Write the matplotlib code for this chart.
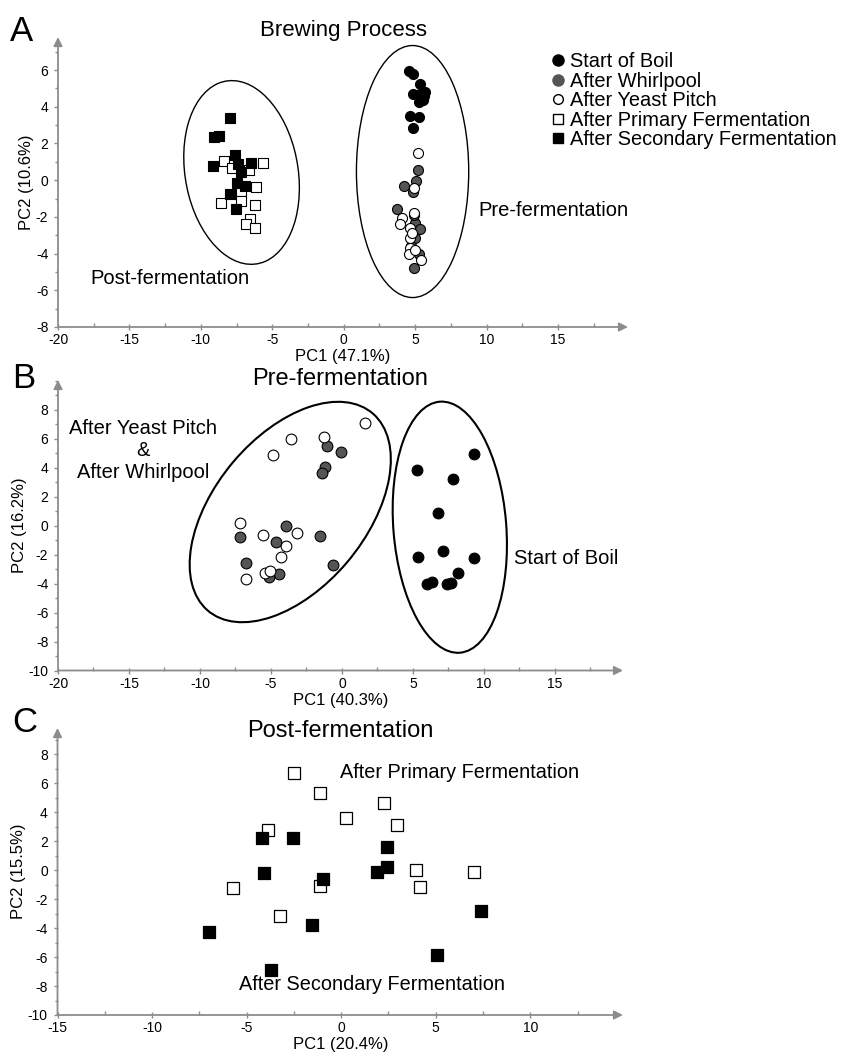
import matplotlib
matplotlib.use("Agg")
import matplotlib.pyplot as plt
from matplotlib.patches import Ellipse
from matplotlib.lines import Line2D
from matplotlib.ticker import MultipleLocator

plt.rcParams['font.family'] = ['Liberation Sans', 'DejaVu Sans']
plt.rcParams['axes.unicode_minus'] = False

# ---- Panel A : whole brewing process (PC1 47.1 %, PC2 10.6 %) ----
a_boil_x = [4.55, 4.83, 5.36, 5.71, 4.83, 5.36, 5.52, 5.24, 4.66, 5.24, 4.83, 5.60]
a_boil_y = [5.96, 5.78, 5.24, 4.82, 4.69, 4.69, 4.38, 4.24, 3.47, 3.42, 2.84, 4.60]
a_whirl_x = [5.18, 4.20, 5.09, 4.85, 3.73, 5.01, 5.36, 5.01, 5.29, 4.94, 4.70, 4.90]
a_whirl_y = [0.55, -0.31, -0.04, -0.62, -1.58, -2.31, -2.68, -3.13, -4.04, -4.77, -3.60, -1.90]
a_yeast_x = [5.18, 4.94, 4.90, 4.08, 3.92, 4.66, 4.66, 4.62, 4.55, 5.41, 5.01, 4.80]
a_yeast_y = [1.48, -0.45, -1.80, -2.07, -2.40, -2.58, -3.13, -3.67, -4.04, -4.37, -3.80, -2.90]
a_prim_x = [-8.39, -7.80, -6.64, -5.64, -6.17, -7.17, -8.62, -7.22, -6.24, -6.57, -6.87, -6.24]
a_prim_y = [1.02, 0.69, 0.56, 0.91, -0.35, -0.58, -1.27, -1.16, -1.36, -2.13, -2.40, -2.62]
a_sec_x = [-7.97, -9.09, -8.74, -9.18, -7.62, -7.41, -6.48, -7.22, -7.50, -6.92, -7.97, -7.57]
a_sec_y = [3.37, 2.36, 2.38, 0.78, 1.36, 0.87, 0.96, 0.42, -0.18, -0.31, -0.76, -1.55]

# ---- Panel B : pre-fermentation (PC1 40.3 %, PC2 16.2 %) ----
b_boil_x = [9.30, 5.28, 7.82, 6.74, 5.33, 7.09, 9.27, 8.17, 5.99, 6.34, 7.39, 7.68]
b_boil_y = [4.95, 3.85, 3.20, 0.90, -2.14, -1.73, -2.21, -3.25, -3.99, -3.92, -4.03, -3.94]
b_whirl_x = [-1.06, -0.07, -1.22, -1.41, -3.92, -7.16, -4.65, -1.57, -6.76, -0.63, -4.46, -5.16]
b_whirl_y = [5.53, 5.07, 4.08, 3.62, -0.02, -0.76, -1.15, -0.69, -2.56, -2.72, -3.36, -3.53]
b_yeast_x = [1.60, -1.29, -3.59, -4.86, -7.21, -5.59, -3.17, -3.92, -4.27, -6.74, -5.40, -5.05]
b_yeast_y = [7.07, 6.15, 5.99, 4.88, 0.16, -0.65, -0.48, -1.38, -2.14, -3.69, -3.25, -3.11]

# ---- Panel C : post-fermentation (PC1 20.4 %, PC2 15.5 %) ----
c_prim_x = [-2.50, -1.12, 2.24, 0.24, 2.95, -3.86, -5.71, -1.12, 3.94, 4.17, 7.01, -3.21]
c_prim_y = [6.67, 5.32, 4.63, 3.58, 3.08, 2.74, -1.26, -1.07, 0.00, -1.14, -0.11, -3.15]
c_sec_x = [-4.19, -2.56, 2.42, -4.07, -0.98, 1.91, 2.42, 7.40, -1.52, -7.01, 5.06, -3.72]
c_sec_y = [2.21, 2.24, 1.60, -0.18, -0.64, -0.11, 0.21, -2.85, -3.77, -4.29, -5.89, -6.92]

# grouping ellipses: centre x, centre y, width, height, angle
a_post_ell = (-7.15, 0.42, 7.8, 10.24, 19)
a_pre_ell = (4.82, 0.47, 7.86, 13.73, 0)
b_mix_ell = (-3.64, 0.95, 17.9, 10.6, 49.3)
b_boil_ell = (7.6, -0.1, 7.95, 17.4, 4.7)

legend_labels = ["Start of Boil", "After Whirlpool", "After Yeast Pitch",
                 "After Primary Fermentation", "After Secondary Fermentation"]

GRAY = "#555555"
AXC = "#8c8c8c"
W, H = 847, 1057

fig = plt.figure(figsize=(W / 100, H / 100), dpi=100)


def px_rect(left, top, right, bottom):
    return [left / W, 1 - bottom / H, (right - left) / W, (bottom - top) / H]


def style_axes(ax, xlim, ylim, xlabel, ylabel):
    ax.set_xlim(*xlim)
    ax.set_ylim(*ylim)
    for s in ax.spines.values():
        s.set_visible(False)
    ax.annotate("", xy=(1, 0), xytext=(0, 0), xycoords="axes fraction",
                arrowprops=dict(arrowstyle="-|>", color=AXC, lw=1.3,
                                mutation_scale=13, shrinkA=0, shrinkB=0))
    ax.annotate("", xy=(0, 1), xytext=(0, 0), xycoords="axes fraction",
                arrowprops=dict(arrowstyle="-|>", color=AXC, lw=1.3,
                                mutation_scale=13, shrinkA=0, shrinkB=0))
    ax.xaxis.set_major_locator(MultipleLocator(5))
    ax.xaxis.set_minor_locator(MultipleLocator(2.5))
    ax.yaxis.set_major_locator(MultipleLocator(2))
    ax.yaxis.set_minor_locator(MultipleLocator(1))
    ax.tick_params(axis="x", which="major", direction="inout", length=5,
                   width=1, color=AXC, labelsize=10, pad=2)
    ax.tick_params(axis="x", which="minor", direction="in", length=3,
                   width=1, color=AXC)
    ax.tick_params(axis="y", which="major", direction="out", length=3,
                   width=1, color=AXC, labelsize=10, pad=4)
    ax.tick_params(axis="y", which="minor", direction="out", length=2,
                   width=1, color=AXC)
    ax.set_xlabel(xlabel, fontsize=12, labelpad=1.5)
    ax.set_ylabel(ylabel, fontsize=12, labelpad=1)
    ax.set_facecolor("none")


def add_ellipse(ax, e, lw):
    ax.add_patch(Ellipse((e[0], e[1]), e[2], e[3], angle=e[4],
                         fill=False, ec="black", lw=lw))


# Panel A
ax1 = fig.add_axes(px_rect(58, 37, 628, 327))
style_axes(ax1, (-20, 19.9), (-8, 7.8), "PC1 (47.1%)", "PC2 (10.6%)")
ax1.set_xticks(range(-20, 20, 5))
ax1.set_yticks(range(-8, 7, 2))
add_ellipse(ax1, a_post_ell, 1.0)
add_ellipse(ax1, a_pre_ell, 1.0)
ms_c, ms_s = 52, 46
ax1.scatter(a_boil_x, a_boil_y, s=ms_c, marker="o", fc="black", ec="black", lw=0.8, zorder=3)
ax1.scatter(a_whirl_x, a_whirl_y, s=ms_c, marker="o", fc=GRAY, ec="black", lw=0.8, zorder=3)
ax1.scatter(a_yeast_x, a_yeast_y, s=ms_c, marker="o", fc="white", ec="black", lw=0.8, zorder=3)
ax1.scatter(a_prim_x, a_prim_y, s=ms_s, marker="s", fc="white", ec="black", lw=0.8, zorder=3)
ax1.scatter(a_sec_x, a_sec_y, s=ms_s, marker="s", fc="black", ec="black", lw=0.8, zorder=3)
ax1.text(-17.7, -5.35, "Post-fermentation", fontsize=14.5, va="center", ha="left")
ax1.text(9.43, -1.68, "Pre-fermentation", fontsize=14.5, va="center", ha="left")
ax1.text(0.5, 1.005, "Brewing Process", transform=ax1.transAxes, fontsize=16,
         ha="center", va="baseline")

handles = [
    Line2D([], [], ls="none", marker="o", mfc="black", mec="black", ms=8),
    Line2D([], [], ls="none", marker="o", mfc=GRAY, mec=GRAY, ms=8),
    Line2D([], [], ls="none", marker="o", mfc="white", mec="black", mew=1, ms=7),
    Line2D([], [], ls="none", marker="s", mfc="white", mec="black", mew=1, ms=7),
    Line2D([], [], ls="none", marker="s", mfc="black", mec="black", ms=7.5),
]
fig.legend(handles, legend_labels, loc="upper left",
           bbox_to_anchor=(549.5 / W, 1 - 52 / H), frameon=False,
           fontsize=14.4, handlelength=0.8, handletextpad=0.25,
           labelspacing=0.03, borderpad=0, borderaxespad=0)

# Panel B
ax2 = fig.add_axes(px_rect(58, 380, 623, 670.5))
style_axes(ax2, (-20, 19.8), (-10, 10.07), "PC1 (40.3%)", "PC2 (16.2%)")
ax2.set_xticks(range(-20, 20, 5))
ax2.set_yticks(range(-10, 9, 2))
add_ellipse(ax2, b_mix_ell, 1.5)
add_ellipse(ax2, b_boil_ell, 1.5)
ms_b = 60
ax2.scatter(b_boil_x, b_boil_y, s=ms_b, marker="o", fc="black", ec="black", lw=0.8, zorder=3)
ax2.scatter(b_whirl_x, b_whirl_y, s=ms_b, marker="o", fc=GRAY, ec="black", lw=0.8, zorder=3)
ax2.scatter(b_yeast_x, b_yeast_y, s=ms_b, marker="o", fc="white", ec="black", lw=0.8, zorder=3)
ax2.text(-14.0, 5.2, "After Yeast Pitch\n&\nAfter Whirlpool", fontsize=14.5,
         ha="center", va="center", linespacing=1.2)
ax2.text(12.1, -2.24, "Start of Boil", fontsize=14.5, ha="left", va="center")
ax2.text(0.5, 1 - 5 / 290.5, "Pre-fermentation", transform=ax2.transAxes,
         fontsize=17, ha="center", va="baseline")

# Panel C
ax3 = fig.add_axes(px_rect(57.5, 728, 623, 1015))
style_axes(ax3, (-15, 14.9), (-10, 9.8), "PC1 (20.4%)", "PC2 (15.5%)")
ax3.set_xticks(range(-15, 15, 5))
ax3.set_yticks(range(-10, 9, 2))
ms_q = 66
ax3.scatter(c_prim_x, c_prim_y, s=ms_q, marker="s", fc="white", ec="black", lw=0.9, zorder=3)
ax3.scatter(c_sec_x, c_sec_y, s=ms_q, marker="s", fc="black", ec="black", lw=0.9, zorder=3)
ax3.text(-0.06, 6.73, "After Primary Fermentation", fontsize=14.3, ha="left", va="center")
ax3.text(-5.39, -7.88, "After Secondary Fermentation", fontsize=14.3, ha="left", va="center")
ax3.text(0.5, 1 - 9 / 287, "Post-fermentation", transform=ax3.transAxes,
         fontsize=17, ha="center", va="baseline")

# panel letters
for letter, (lx, ly) in zip("ABC", [(10, 41), (12, 388), (12, 732)]):
    fig.text(lx / W, 1 - ly / H, letter, fontsize=25, ha="left", va="baseline")

fig.savefig("out.png", dpi=100)
